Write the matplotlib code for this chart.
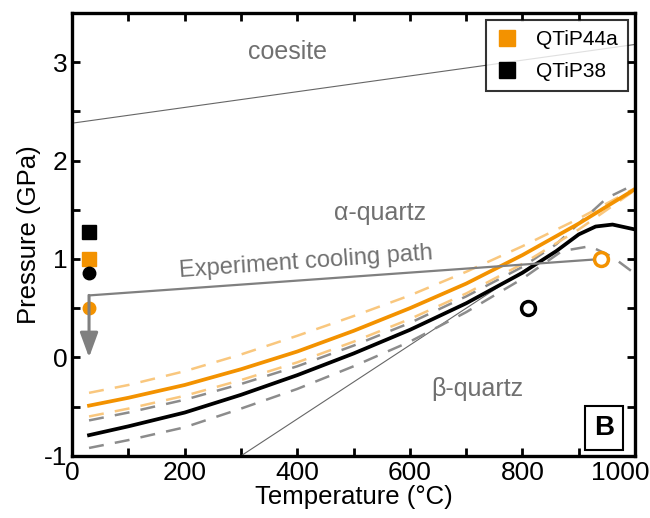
import numpy as np
import matplotlib.pyplot as plt
import matplotlib.transforms as mtransforms

plt.rcParams['font.family'] = ['Liberation Sans', 'DejaVu Sans']
plt.rcParams['axes.unicode_minus'] = False

# courbes (T en °C, P en GPa)
T_or = [30, 100, 200, 300, 400, 500, 600, 700, 800, 900, 1000]
P_or = [-0.49, -0.41, -0.28, -0.12, 0.06, 0.27, 0.50, 0.75, 1.04, 1.36, 1.71]
P_or_hi = [-0.36, -0.28, -0.14, 0.03, 0.22, 0.42, 0.63, 0.87, 1.13, 1.41, 1.72]
P_or_lo = [-0.60, -0.52, -0.39, -0.23, -0.05, 0.16, 0.39, 0.65, 0.95, 1.30, 1.70]

T_bk = [30, 100, 200, 300, 400, 500, 600, 700, 800, 860, 900, 930, 960, 1000]
P_bk = [-0.79, -0.70, -0.56, -0.38, -0.18, 0.04, 0.28, 0.55, 0.86, 1.08, 1.25, 1.33, 1.35, 1.30]

T_gr_hi = [30, 100, 200, 300, 400, 500, 600, 700, 800, 860, 900, 950, 1000]
P_gr_hi = [-0.64, -0.56, -0.43, -0.27, -0.09, 0.12, 0.35, 0.62, 0.92, 1.15, 1.36, 1.62, 1.76]
T_gr_lo = [30, 100, 200, 300, 400, 500, 600, 700, 800, 870, 920, 960, 1000]
P_gr_lo = [-0.92, -0.84, -0.71, -0.52, -0.32, -0.09, 0.16, 0.46, 0.80, 1.08, 1.13, 1.02, 0.85]

T_coe = [0, 1000]
P_coe = [2.38, 3.18]
T_ab = [300, 820]
P_ab = [-1.0, 0.95]

T_path = [30, 30, 940]
P_path = [0.0, 0.63, 1.0]

orange = '#F39200'
light = '#F9C77E'
gris = '#8C8C8C'

fig, ax = plt.subplots(figsize=(6.5, 5.18), dpi=100)
fig.subplots_adjust(left=0.111, right=0.977, bottom=0.12, top=0.975)

ax.plot(T_coe, P_coe, color='#666666', lw=0.8)
ax.plot(T_ab, P_ab, color='#666666', lw=0.8)

dash = (0, (6, 4.5))
ax.plot(T_or, P_or_hi, color=light, lw=1.8, ls=dash)
ax.plot(T_gr_hi, P_gr_hi, color=gris, lw=1.8, ls=dash)
ax.plot(T_or, P_or_lo, color=light, lw=1.8, ls=dash)
ax.plot(T_gr_lo, P_gr_lo, color=gris, lw=1.8, ls=dash)
ax.plot(T_bk, P_bk, color='black', lw=2.7)
ax.plot(T_or, P_or, color=orange, lw=2.7)

# chemin de refroidissement
ax.plot(T_path[1:], P_path[1:], color='#808080', lw=1.6)
ax.annotate('', xy=(T_path[0], P_path[0]), xytext=(T_path[1], P_path[1]),
            arrowprops=dict(arrowstyle='-|>,head_width=0.55,head_length=1.5',
                            color='#808080', lw=2.2, shrinkA=0, shrinkB=0))

ax.plot(30, 1.0, 's', color=orange, ms=10, label='QTiP44a')
ax.plot(30, 1.27, 's', color='black', ms=10, label='QTiP38')
ax.plot(30, 0.86, 'o', color='black', ms=9)
ax.plot(30, 0.50, 'o', color=orange, ms=9)
ax.plot(940, 1.0, 'o', mfc='white', mec=orange, mew=2.5, ms=10)
ax.plot(810, 0.5, 'o', mfc='white', mec='black', mew=2.5, ms=10)

tc = '#707070'
ax.text(382, 3.1, 'coesite', color=tc, fontsize=18, ha='center', va='center')
ax.text(547, 1.47, 'α-quartz', color=tc, fontsize=18, ha='center', va='center')
ax.text(720, -0.32, 'β-quartz', color=tc, fontsize=18, ha='center', va='center')
ax.text(416, 0.97, 'Experiment cooling path', color=tc, fontsize=17,
        ha='center', va='center', rotation=4)
ax.text(0.945, 0.062, 'B', transform=ax.transAxes, fontsize=20, fontweight='bold',
        ha='center', va='center',
        bbox=dict(boxstyle='square,pad=0.32', fc='white', ec='black', lw=1.5))

ax.set_xlim(0, 1000)
ax.set_ylim(-1, 3.5)
ax.set_xticks(np.arange(0, 1001, 200))
ax.set_xticks(np.arange(0, 1001, 100), minor=True)
ax.set_yticks([-1, 0, 1, 2, 3])
ax.set_yticks(np.arange(-1, 3.51, 0.5), minor=True)
ax.tick_params(which='both', direction='in', top=True, right=True,
               length=6, width=2, labelsize=19)
for s in ax.spines.values():
    s.set_linewidth(2.4)
ax.set_xlabel('Temperature (°C)', fontsize=18.5, labelpad=0)
ax.set_ylabel('Pressure (GPa)', fontsize=18.5, labelpad=2)

# dernier label "1000" calé sur le bord droit
dernier = ax.get_xticklabels()[-1]
dernier.set_horizontalalignment('right')
dernier.set_transform(dernier.get_transform() +
                      mtransforms.ScaledTranslation(0.14, 0, fig.dpi_scale_trans))

leg = ax.legend(loc='upper right', fontsize=15, frameon=True, fancybox=False,
                handlelength=1, handletextpad=0.9, borderpad=0.5,
                labelspacing=0.6, numpoints=1, markerscale=1.15,
                borderaxespad=0, bbox_to_anchor=(0.988, 0.984))
leg.get_frame().set_edgecolor('black')
leg.get_frame().set_linewidth(1.5)

fig.savefig('out.png', dpi=100)
